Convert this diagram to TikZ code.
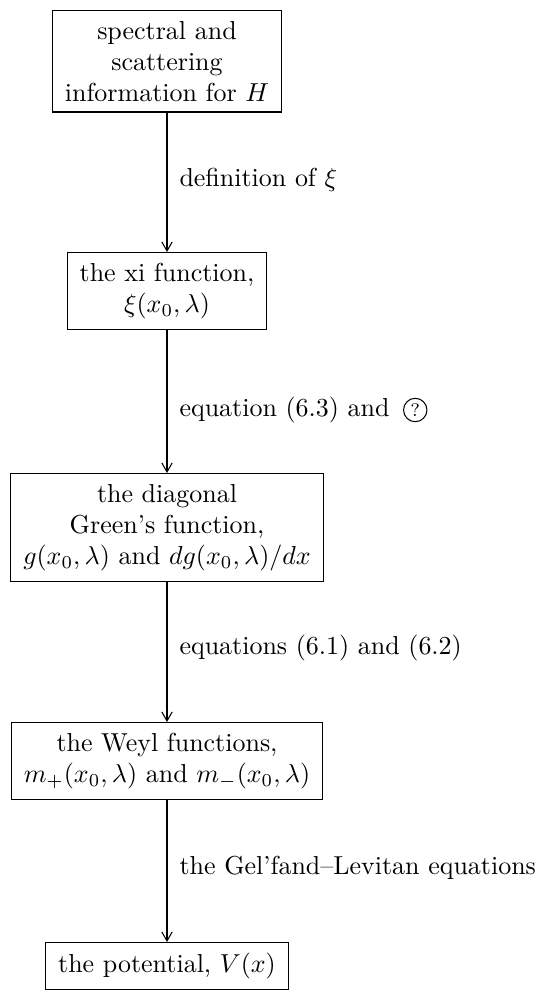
\documentclass[tikz,border=0pt]{standalone}
\usetikzlibrary{arrows.meta}
\begin{document}
\begin{tikzpicture}[x=0.385pt,y=-0.385pt,
  box/.style={draw, line width=0.5pt, align=center, inner xsep=4.8pt, inner ysep=4pt, font=\normalsize},
  lab/.style={anchor=west, inner sep=0pt, font=\normalsize},
  conn/.style={-{Straight Barb[length=3.5pt,width=4pt]}, line width=0.4pt},
  qcirc/.style={circle, draw, line width=0.4pt, inner sep=1pt, font=\scriptsize}]
\useasboundingbox (0,0) rectangle (547,990);
\node[box, anchor=north] (b1) at (167,10) {spectral and\\ scattering\\ information for $H$};
\node[box, anchor=north] (b2) at (167,252) {the xi function,\\ $\xi(x_0,\lambda)$};
\node[box, anchor=north] (b3) at (167,473) {the diagonal\\ Green's function,\\ $g(x_0,\lambda)$ and $dg(x_0,\lambda)/dx$};
\node[box, anchor=north] (b4) at (167,722) {the Weyl functions,\\ $m_+(x_0,\lambda)$ and $m_-(x_0,\lambda)$};
\node[box, anchor=north] (b5) at (167,942) {the potential, $V(x)$};
\draw[conn] (b1) -- (b2);
\draw[conn] (b2) -- (b3);
\draw[conn] (b3) -- (b4);
\draw[conn] (b4) -- (b5);
\node[lab] (l1) at (179,180) {definition of $\xi$};
\node[lab] (l2) at (179,410) {equation (6.3) and};
\node[qcirc, anchor=west] (q) at ([xshift=5pt]l2.east) {?};
\node[lab] (l3) at (179,648) {equations (6.1) and (6.2)};
\node[lab] (l4) at (179,868) {the Gel'fand--Levitan equations};
\end{tikzpicture}
\end{document}
